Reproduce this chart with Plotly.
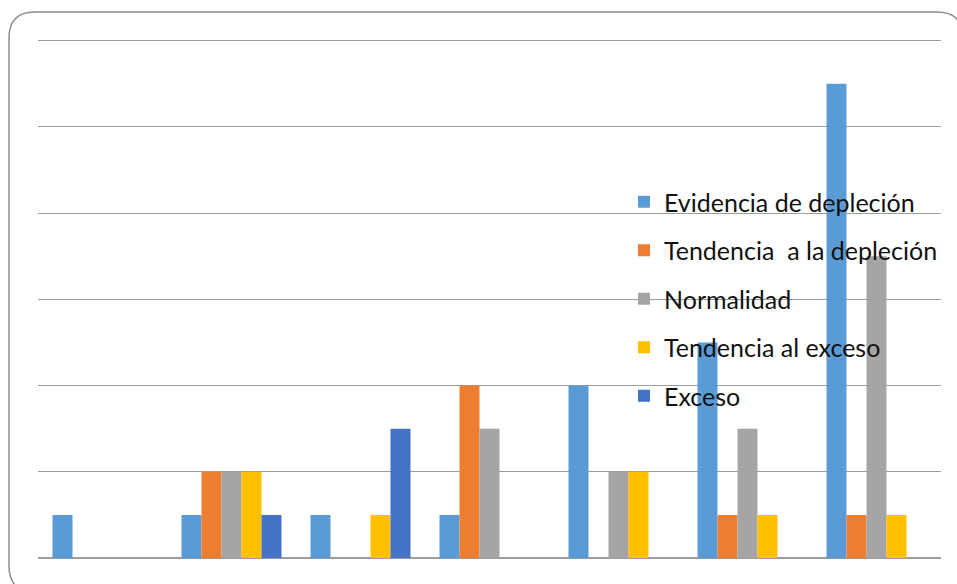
import plotly.graph_objects as go

# Seven groups, five categories of status each
groups = ["1", "2", "3", "4", "5", "6", "7"]
series_names = [
    "Evidencia de depleción",
    "Tendencia  a la depleción",
    "Normalidad",
    "Tendencia al exceso",
    "Exceso",
]
evidencia = [1, 1, 1, 1, 4, 5, 11]
tend_depl = [0, 2, 0, 4, 0, 1, 1]
normalidad = [0, 2, 0, 3, 2, 3, 7]
tend_exceso = [0, 2, 1, 0, 2, 1, 1]
exceso = [0, 1, 3, 0, 0, 0, 0]
colors = ["#5B9BD5", "#ED7D31", "#A5A5A5", "#FFC000", "#4472C4"]

W, H = 957, 584
L, R, T, B = 38, 16, 32, 26

fig = go.Figure()
for i, (name, vals) in enumerate(zip(series_names,
                                     [evidencia, tend_depl, normalidad, tend_exceso, exceso])):
    fig.add_trace(go.Bar(
        x=groups, y=vals, name=name, legendgroup=name,
        marker=dict(color=colors[i], line=dict(width=0)),
    ))

# Rounded outer frame, drawn in pixel space and converted to paper coordinates
pw, ph = W - L - R, H - T - B
def px(x):
    return (x - L) / pw
def py(y):
    return (H - B - y) / ph

x0, x1, y0, y1, r = 9, 963, 12, 592, 26
path = (
    f"M {px(x0 + r)},{py(y0)} L {px(x1 - r)},{py(y0)} "
    f"Q {px(x1)},{py(y0)} {px(x1)},{py(y0 + r)} "
    f"L {px(x1)},{py(y1 - r)} Q {px(x1)},{py(y1)} {px(x1 - r)},{py(y1)} "
    f"L {px(x0 + r)},{py(y1)} Q {px(x0)},{py(y1)} {px(x0)},{py(y1 - r)} "
    f"L {px(x0)},{py(y0 + r)} Q {px(x0)},{py(y0)} {px(x0 + r)},{py(y0)} Z"
)
fig.add_shape(type="path", path=path, xref="paper", yref="paper",
              line=dict(color="#8f8f8f", width=1.5), layer="below")

fig.update_layout(
    width=W, height=H,
    margin=dict(l=L, r=R, t=T, b=B),
    paper_bgcolor="white", plot_bgcolor="white",
    barmode="group", bargap=0.225, bargroupgap=0,
    font=dict(family="Lato, Open Sans, sans-serif", color="#111111"),
    showlegend=True,
    legend=dict(
        x=px(624), y=py(179), xanchor="left", yanchor="top",
        bgcolor="rgba(0,0,0,0)", font=dict(size=25),
        tracegroupgap=13, traceorder="grouped",
        itemwidth=30,
    ),
    xaxis=dict(showticklabels=False, showgrid=False, zeroline=False,
               showline=False, ticks=""),
    yaxis=dict(range=[0, 12.2], tickvals=[2, 4, 6, 8, 10, 12], showticklabels=False,
               showgrid=True, gridcolor="#9c9c9c", gridwidth=1.4,
               zeroline=True, zerolinecolor="#9c9c9c", zerolinewidth=1.6,
               showline=False, ticks=""),
)

fig.write_html("out.html")
